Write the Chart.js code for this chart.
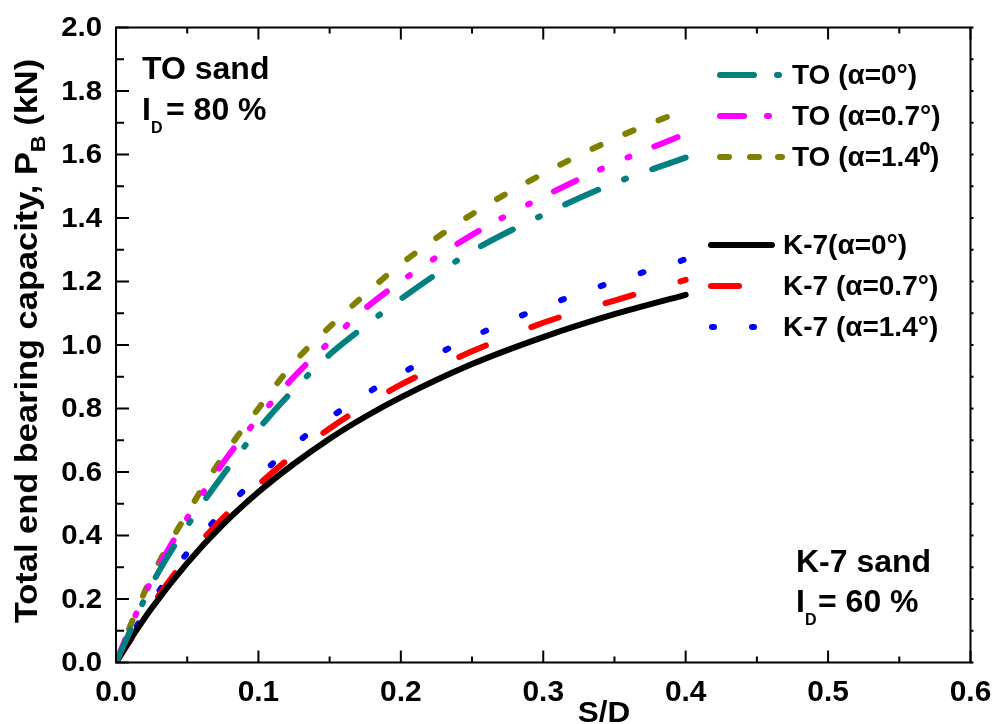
<!DOCTYPE html>
<html>
<head>
<meta charset="utf-8">
<script src="https://cdn.jsdelivr.net/npm/chart.js@4.4.1/dist/chart.umd.min.js"></script>
<style>
html,body{margin:0;padding:0;background:#fff;}
#wrap{width:997px;height:724px;position:relative;}
</style>
</head>
<body>
<div id="wrap"><canvas id="c"></canvas></div>
<script>
// ---- data ----
const sd = [0, 0.01, 0.025, 0.05, 0.075, 0.1, 0.125, 0.15, 0.175, 0.2, 0.25, 0.3, 0.35, 0.4];
const pTO_a0   = [0, 0.10, 0.245, 0.43, 0.59, 0.735, 0.86, 0.97, 1.06, 1.145, 1.295, 1.41, 1.51, 1.59];
const pTO_a07  = [0, 0.11, 0.26, 0.455, 0.628, 0.77, 0.90, 1.01, 1.115, 1.20, 1.347, 1.467, 1.573, 1.665];
const pTO_a14  = [0, 0.115, 0.27, 0.47, 0.648, 0.80, 0.945, 1.057, 1.16, 1.255, 1.412, 1.54, 1.65, 1.742];
const pK7_a0   = [0, 0.072, 0.171, 0.313, 0.434, 0.537, 0.626, 0.705, 0.774, 0.835, 0.94, 1.025, 1.097, 1.158];
const pK7_a07  = [0, 0.07, 0.178, 0.33, 0.455, 0.56, 0.655, 0.737, 0.81, 0.875, 0.98, 1.07, 1.14, 1.205];
const pK7_a14  = [0, 0.08, 0.19, 0.345, 0.475, 0.585, 0.685, 0.77, 0.845, 0.91, 1.025, 1.12, 1.20, 1.27];
const seriesNames = ['TO (\u03b1=0\u00b0)', 'TO (\u03b1=0.7\u00b0)', 'TO (\u03b1=1.4\u2070)', 'K-7(\u03b1=0\u00b0)', 'K-7 (\u03b1=0.7\u00b0)', 'K-7 (\u03b1=1.4\u00b0)'];
const xTickLabels = ['0.0', '0.1', '0.2', '0.3', '0.4', '0.5', '0.6'];
const yTickLabels = ['0.0', '0.2', '0.4', '0.6', '0.8', '1.0', '1.2', '1.4', '1.6', '1.8', '2.0'];
const xTitle = 'S/D';
const yTitleMain = 'Total end bearing capacity, P';
const yTitleSub = 'B';
const yTitleEnd = ' (kN)';

// ---- styles ----
const FONT = '"Liberation Sans", Arial, Helvetica, sans-serif';
const styles = [
  {color: '#008080', dash: [36, 28, 2, 28], width: 6},
  {color: '#FF00FF', dash: [25, 26, 2, 28, 2, 27], width: 6},
  {color: '#808000', dash: [9, 27], width: 6},
  {color: '#000000', dash: [], width: 6},
  {color: '#FF0000', dash: [29, 49], width: 6},
  {color: '#0000FF', dash: [3, 39], width: 6}
];
const seriesValues = [pTO_a0, pTO_a07, pTO_a14, pK7_a0, pK7_a07, pK7_a14];

const datasets = seriesValues.map((vals, i) => ({
  label: seriesNames[i],
  data: sd.map((x, k) => ({x: x, y: vals[k]})),
  showLine: true,
  borderColor: styles[i].color,
  backgroundColor: styles[i].color,
  borderWidth: styles[i].width,
  borderDash: styles[i].dash,
  borderCapStyle: 'round',
  borderJoinStyle: 'round',
  pointRadius: 0,
  pointHoverRadius: 0,
  cubicInterpolationMode: 'monotone',
  fill: false
}));

function txt(ctx, s, x, y, size, align, baseline, sx) {
  ctx.save();
  ctx.font = 'bold ' + size + 'px ' + FONT;
  ctx.textAlign = align || 'left';
  ctx.textBaseline = baseline || 'alphabetic';
  ctx.translate(x, y);
  ctx.scale(sx || 1, 1);
  ctx.fillText(s, 0, 0);
  ctx.restore();
}

const decor = {
  id: 'decor',
  afterDatasetsDraw(chart) {
    const ctx = chart.ctx;
    const xs = chart.scales.x, ys = chart.scales.y;
    const a = chart.chartArea;
    ctx.save();
    ctx.fillStyle = '#000';
    ctx.strokeStyle = '#000';
    ctx.lineWidth = 2;
    ctx.lineCap = 'butt';
    // frame
    ctx.strokeRect(a.left, a.top, a.right - a.left, a.bottom - a.top);
    const xVals = xTickLabels.map(Number);
    const yVals = yTickLabels.map(Number);
    ctx.beginPath();
    for (let i = 0; i < xVals.length; i++) {
      const px = xs.getPixelForValue(xVals[i]);
      ctx.moveTo(px, a.bottom); ctx.lineTo(px, a.bottom - 12);
      ctx.moveTo(px, a.top); ctx.lineTo(px, a.top + 12);
      if (i < xVals.length - 1) {
        const pm = xs.getPixelForValue((xVals[i] + xVals[i + 1]) / 2);
        ctx.moveTo(pm, a.bottom); ctx.lineTo(pm, a.bottom - 6);
        ctx.moveTo(pm, a.top); ctx.lineTo(pm, a.top + 6);
      }
    }
    for (let i = 0; i < yVals.length; i++) {
      const py = ys.getPixelForValue(yVals[i]);
      ctx.moveTo(a.left, py); ctx.lineTo(a.left + 13, py);
      ctx.moveTo(a.right, py); ctx.lineTo(a.right + 3, py);
      if (i < yVals.length - 1) {
        const pm = ys.getPixelForValue((yVals[i] + yVals[i + 1]) / 2);
        ctx.moveTo(a.left, pm); ctx.lineTo(a.left + 8, pm);
        ctx.moveTo(a.right, pm); ctx.lineTo(a.right + 3, pm);
      }
    }
    ctx.stroke();
    // tick labels
    for (let i = 0; i < xVals.length; i++) {
      txt(ctx, xTickLabels[i], xs.getPixelForValue(xVals[i]), a.bottom + 16, 29, 'center', 'top', 1.03);
    }
    for (let i = 0; i < yVals.length; i++) {
      txt(ctx, yTickLabels[i], a.left - 14, ys.getPixelForValue(yVals[i]) + 1, 28, 'right', 'middle', 1.05);
    }
    // axis titles
    txt(ctx, xTitle, 604, 722, 30, 'center', 'alphabetic', 1.05);
    ctx.save();
    ctx.translate(37, 341);
    ctx.rotate(-Math.PI / 2);
    ctx.scale(1.11, 1);
    ctx.font = 'bold 31px ' + FONT;
    const w1 = ctx.measureText(yTitleMain).width;
    ctx.font = 'bold 21px ' + FONT;
    const w2 = ctx.measureText(yTitleSub).width;
    ctx.font = 'bold 31px ' + FONT;
    const w3 = ctx.measureText(yTitleEnd).width;
    let x0 = -(w1 + w2 + w3) / 2;
    ctx.textBaseline = 'alphabetic';
    ctx.textAlign = 'left';
    ctx.fillText(yTitleMain, x0, 0);
    ctx.font = 'bold 21px ' + FONT;
    ctx.fillText(yTitleSub, x0 + w1, 8);
    ctx.font = 'bold 31px ' + FONT;
    ctx.fillText(yTitleEnd, x0 + w1 + w2, 0);
    ctx.restore();

    // annotations
    txt(ctx, 'TO sand', 142, 79, 32, 'left');
    txt(ctx, 'I', 142, 120, 32, 'left');
    txt(ctx, 'D', 151, 133, 16, 'left');
    txt(ctx, '= 80 %', 166, 120, 32, 'left');
    txt(ctx, 'K-7 sand', 796, 572, 32, 'left');
    txt(ctx, 'I', 796, 612, 32, 'left');
    txt(ctx, 'D', 805, 625, 16, 'left');
    txt(ctx, '= 60 %', 818, 612, 32, 'left');

    // legend
    const legY = [75, 116, 157, 245, 286, 327];
    const legTextX = [792, 792, 792, 783, 783, 783];
    const legSegs = [
      [[720, 754], [777, 779]],
      [[720, 744], [767, 769]],
      [[720, 729], [750, 759], [778, 782]],
      [[711, 772]],
      [[711, 739]],
      [[712, 714], [752, 754]]
    ];
    for (let i = 0; i < 6; i++) {
      ctx.save();
      ctx.strokeStyle = styles[i].color;
      ctx.lineWidth = styles[i].width;
      ctx.lineCap = 'round';
      ctx.beginPath();
      legSegs[i].forEach(s => { ctx.moveTo(s[0], legY[i]); ctx.lineTo(s[1], legY[i]); });
      ctx.stroke();
      ctx.restore();
      txt(ctx, seriesNames[i], legTextX[i], legY[i] + 1, 28, 'left', 'middle');
    }
    ctx.restore();
  }
};

new Chart(document.getElementById('c'), {
  type: 'scatter',
  data: {datasets: datasets},
  options: {
    responsive: true,
    maintainAspectRatio: false,
    devicePixelRatio: 1,
    animation: false,
    events: [],
    layout: {padding: {left: 116, right: 26.5, top: 27.5, bottom: 61.5}},
    plugins: {legend: {display: false}, tooltip: {enabled: false}},
    scales: {
      x: {type: 'linear', min: 0, max: 0.6, display: false},
      y: {type: 'linear', min: 0, max: 2.0, display: false}
    }
  },
  plugins: [decor]
});
</script>
</body>
</html>
